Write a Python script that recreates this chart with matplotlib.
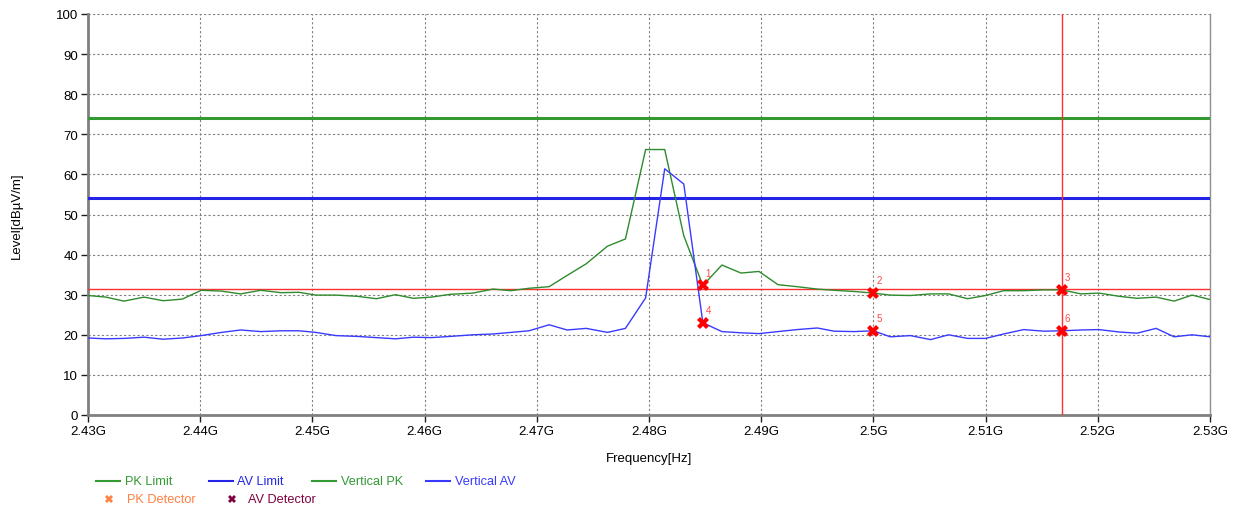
import matplotlib
matplotlib.use("Agg")
import matplotlib.pyplot as plt
from matplotlib.lines import Line2D
import numpy as np

plt.rcParams['font.family'] = ['Liberation Sans', 'DejaVu Sans']

# Frequency points (MHz)
freq_mhz = [2430.0, 2431.6, 2433.2, 2435.0, 2436.7, 2438.4, 2440.1, 2441.9, 2443.6, 2445.4,
            2447.2, 2448.8, 2450.3, 2452.1, 2454.0, 2455.7, 2457.4, 2459.0, 2460.6, 2462.3,
            2464.3, 2466.1, 2467.7, 2469.3, 2471.1, 2472.7, 2474.4, 2476.3, 2477.9, 2479.7,
            2481.4, 2483.1, 2484.8, 2486.5, 2488.2, 2489.8, 2491.5, 2493.2, 2495.0, 2496.5,
            2498.3, 2500.0, 2501.5, 2503.3, 2505.1, 2506.7, 2508.4, 2510.0, 2511.6, 2513.4,
            2515.2, 2516.8, 2518.5, 2520.1, 2521.9, 2523.5, 2525.2, 2526.8, 2528.4, 2530.0]

vertical_pk = [29.8, 29.4, 28.4, 29.4, 28.5, 28.9, 31.1, 30.9, 30.2, 31.1,
               30.5, 30.6, 29.9, 29.9, 29.6, 29.0, 30.0, 29.1, 29.4, 30.1,
               30.4, 31.4, 31.0, 31.6, 32.0, 34.8, 37.7, 42.1, 43.9, 66.2,
               66.2, 44.7, 32.3, 37.4, 35.4, 35.8, 32.5, 32.0, 31.4, 31.1,
               30.8, 30.4, 29.9, 29.8, 30.2, 30.2, 29.0, 29.8, 31.0, 31.0,
               31.2, 31.2, 30.2, 30.4, 29.6, 29.1, 29.4, 28.4, 29.9, 28.8]

vertical_av = [19.2, 19.0, 19.1, 19.4, 18.9, 19.2, 19.8, 20.6, 21.2, 20.8,
               21.0, 21.0, 20.6, 19.8, 19.6, 19.3, 19.0, 19.4, 19.3, 19.6,
               20.0, 20.2, 20.6, 21.0, 22.5, 21.2, 21.6, 20.6, 21.6, 29.2,
               61.4, 57.6, 23.0, 20.8, 20.5, 20.3, 20.8, 21.3, 21.7, 20.9,
               20.8, 21.0, 19.5, 19.8, 18.8, 20.0, 19.1, 19.1, 20.2, 21.3,
               20.9, 21.0, 21.2, 21.3, 20.7, 20.4, 21.6, 19.5, 20.0, 19.5]

pk_limit = 74.0
av_limit = 54.0

# Markers (index into trace)
marker_labels = ['1', '2', '3', '4', '5', '6']
marker_idx = [32, 41, 51, 32, 41, 51]
marker_trace = ['pk', 'pk', 'pk', 'av', 'av', 'av']

display_line_level = 31.3
display_line_freq = 2516.8

xticks_mhz = [2430, 2440, 2450, 2460, 2470, 2480, 2490, 2500, 2510, 2520, 2530]
xtick_labels = ['2.43G', '2.44G', '2.45G', '2.46G', '2.47G', '2.48G', '2.49G',
                '2.5G', '2.51G', '2.52G', '2.53G']
yticks = [0, 10, 20, 30, 40, 50, 60, 70, 80, 90, 100]

legend_row1 = ['PK Limit', 'AV Limit', 'Vertical PK', 'Vertical AV']
legend_row2 = ['PK Detector', 'AV Detector']

c_pk_lim = '#339933'
c_av_lim = '#2424e6'
c_pk = '#2e8b2e'
c_av = '#3a3aff'
c_red = '#ff3030'
c_pkdet = '#ff8040'
c_avdet = '#800040'

fig = plt.figure(figsize=(12.4, 5.1), dpi=100)
ax = fig.add_axes([88/1240, 1-416/510, (1210-88)/1240, (416-15)/510])

ax.axhline(pk_limit, color=c_pk_lim, lw=2.2, zorder=3)
ax.axhline(av_limit, color=c_av_lim, lw=2.2, zorder=3)
ax.plot(freq_mhz, vertical_pk, color=c_pk, lw=1.0, zorder=4)
ax.plot(freq_mhz, vertical_av, color=c_av, lw=1.0, zorder=4)
ax.axhline(display_line_level, color=c_red, lw=1.0, zorder=3)
ax.axvline(display_line_freq, color=c_red, lw=1.0, zorder=3)

for lab, i, tr in zip(marker_labels, marker_idx, marker_trace):
    y = vertical_pk[i] if tr == 'pk' else vertical_av[i]
    x = freq_mhz[i]
    ax.plot([x], [y], marker='X', color='#ff0000', markersize=9, mew=0, zorder=6)
    ax.annotate(lab, (x, y), xytext=(2, 7), textcoords='offset points',
                color='#ff4848', fontsize=7, zorder=6)

ax.set_xlim(2430, 2530)
ax.set_ylim(0, 100)
ax.set_xticks(xticks_mhz)
ax.set_xticklabels(xtick_labels)
ax.set_yticks(yticks)
ax.tick_params(axis='both', labelsize=9.5, length=5, width=1, color='#202020', pad=2)
ax.grid(True, color='#808080', linestyle=(0, (2, 2)), lw=0.8)
for s in ['left', 'bottom']:
    ax.spines[s].set_color('#808080')
    ax.spines[s].set_linewidth(2)
ax.spines['right'].set_color('#909090')
ax.spines['right'].set_linewidth(1)
ax.spines['top'].set_visible(False)

ax.set_xlabel('Frequency[Hz]', fontsize=9.5, labelpad=11)
ax.set_ylabel('Level[dBµV/m]', fontsize=9.5, labelpad=24)

# Legend (drawn manually to match layout)
def fx(px):
    return px / 1240

def fy(py):
    return 1 - py / 510

row1 = 482
pos1 = [(96, 125), (209, 237), (312, 341), (426, 455)]
cols1 = [c_pk_lim, c_av_lim, c_pk_lim, c_av]
for (x0, xt), txt, col in zip(pos1, legend_row1, cols1):
    fig.add_artist(Line2D([fx(x0), fx(x0 + 24)], [fy(row1), fy(row1)], color=col,
                          lw=1.5, transform=fig.transFigure))
    fig.text(fx(xt), fy(row1), txt, color=col, fontsize=9.2, va='center')

row2 = 500
pos2 = [(109, 127), (232, 248)]
cols2 = [c_pkdet, c_avdet]
for (x0, xt), txt, col in zip(pos2, legend_row2, cols2):
    fig.add_artist(Line2D([fx(x0)], [fy(row2)], marker='X', color=col, markersize=6,
                          mew=0, transform=fig.transFigure, linestyle='None'))
    fig.text(fx(xt), fy(row2), txt, color=col, fontsize=9.2, va='center')

fig.savefig('out.png', dpi=100)
